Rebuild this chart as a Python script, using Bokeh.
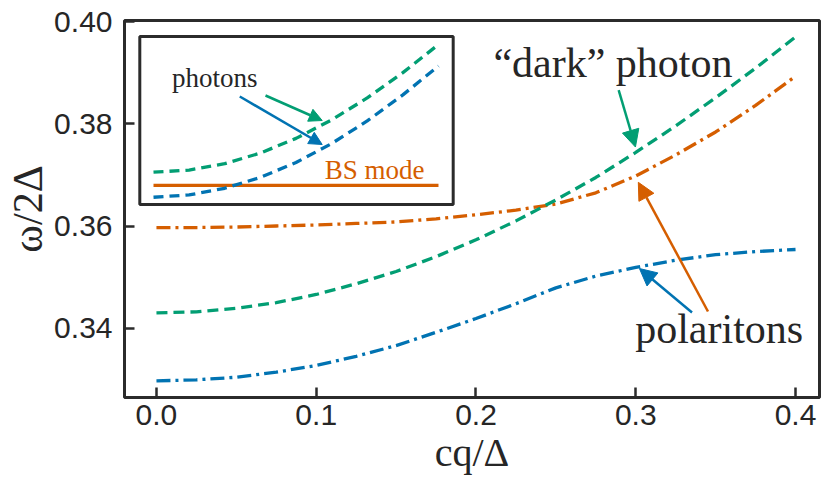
from bokeh.plotting import figure
from bokeh.models import Range1d, FixedTicker, Arrow, NormalHead, ColumnDataSource
from bokeh.core.properties import value
from bokeh.embed import file_html
from bokeh.resources import INLINE

# ---------------- data ----------------
cq = [0.0, 0.025, 0.05, 0.075, 0.1, 0.125, 0.15, 0.175, 0.2,
      0.225, 0.25, 0.275, 0.3, 0.325, 0.35, 0.375, 0.4]
dark_photon = [0.3430, 0.3432, 0.3439, 0.3450, 0.3466, 0.3487, 0.3511, 0.3540, 0.3573,
               0.3610, 0.3651, 0.3695, 0.3744, 0.3796, 0.3851, 0.3909, 0.3970]
upper_polariton = [0.3597, 0.3597, 0.3598, 0.3600, 0.3602, 0.3605, 0.3608, 0.3614, 0.3622,
                   0.3631, 0.3643, 0.3665, 0.3698, 0.3739, 0.3784, 0.3836, 0.3893]
lower_polariton = [0.3297, 0.3299, 0.3304, 0.3314, 0.3327, 0.3345, 0.3366, 0.3392, 0.3419,
                   0.3448, 0.3479, 0.3502, 0.3519, 0.3533, 0.3544, 0.3550, 0.3554]

# inset (own, unlabelled units)
inset_q = [0.0, 0.05, 0.1, 0.15, 0.2, 0.25, 0.3, 0.35, 0.4]
inset_photon_1 = [0.3430, 0.3439, 0.3466, 0.3511, 0.3573, 0.3651, 0.3744, 0.3851, 0.3970]
inset_photon_2 = [0.3324, 0.3334, 0.3362, 0.3408, 0.3471, 0.3551, 0.3647, 0.3757, 0.3879]
inset_bs_mode = [0.3374, 0.3374, 0.3374, 0.3374, 0.3374, 0.3374, 0.3374, 0.3374, 0.3374]

x_ticks = [0.0, 0.1, 0.2, 0.3, 0.4]
x_tick_labels = ["0.0", "0.1", "0.2", "0.3", "0.4"]
y_ticks = [0.34, 0.36, 0.38, 0.40]
y_tick_labels = ["0.34", "0.36", "0.38", "0.40"]

# annotations: (x, y) in data units (text anchored at its vertical middle)
main_labels = ["\u201cdark\u201d photon", "polaritons"]
main_label_x = [0.2857, 0.3522]
main_label_y = [0.39184, 0.33990]
arrow_tail_x = [0.2893, 0.3452, 0.3352]
arrow_tail_y = [0.38659, 0.34327, 0.34307]
arrow_tip_x = [0.2998, 0.3016, 0.3023]
arrow_tip_y = [0.37546, 0.36855, 0.35168]

inset_labels = ["photons", "BS mode"]
inset_label_x = [0.0859, 0.3105]
inset_label_y = [0.38279, 0.34376]
inset_arrow_tail_x = [0.1572, 0.1211]
inset_arrow_tail_y = [0.37543, 0.37501]
inset_arrow_tip_x = [0.2368, 0.2368]
inset_arrow_tip_y = [0.36486, 0.35471]
inset_box = dict(left=[-0.01923], right=[0.42063], bottom=[0.32934], top=[0.40038])

# ---------------- style ----------------
GREEN = "#029E73"
ORANGE = "#D55E00"
BLUE = "#0173B2"
DARK = "#262626"
FRAME = "#2b2b2b"

p = figure(width=830, height=489, output_backend="svg", toolbar_location=None,
           x_range=Range1d(-0.0200, 0.4150), y_range=Range1d(0.32644, 0.40022),
           min_border_left=124, min_border_right=11, min_border_top=20,
           min_border_bottom=92)
p.extra_x_ranges = {"ix": Range1d(-0.04070, 0.93476)}
p.extra_y_ranges = {"iy": Range1d(0.24773, 0.40715)}

p.background_fill_color = "white"
p.border_fill_color = "white"
p.outline_line_color = FRAME
p.outline_line_width = 3
p.xgrid.grid_line_color = None
p.ygrid.grid_line_color = None

for ax in (p.xaxis[0], p.yaxis[0]):
    ax.axis_line_color = None
    ax.major_tick_in = 10
    ax.major_tick_out = 0
    ax.major_tick_line_width = 2.5
    ax.major_tick_line_color = FRAME
    ax.minor_tick_line_color = None
    ax.major_label_text_font = "Liberation Sans"
    ax.major_label_text_font_size = "30px"
    ax.major_label_text_color = DARK
    ax.axis_label_text_font = "Liberation Serif"
    ax.axis_label_text_font_size = "40px"
    ax.axis_label_text_font_style = "normal"
    ax.axis_label_text_color = DARK

p.yaxis.axis_label_text_font_size = "42px"
p.xaxis.ticker = FixedTicker(ticks=x_ticks)
p.xaxis.major_label_overrides = dict(zip(x_ticks, x_tick_labels))
p.yaxis.ticker = FixedTicker(ticks=y_ticks)
p.yaxis.major_label_overrides = dict(zip(y_ticks, y_tick_labels))
p.xaxis.axis_label = "cq/\u0394"
p.yaxis.axis_label = "\u03c9/2\u0394"
p.xaxis.major_label_standoff = 7
p.yaxis.major_label_standoff = 12
p.xaxis.axis_label_standoff = 2
p.yaxis.axis_label_standoff = 0

# main curves
p.line(cq, upper_polariton, line_color=ORANGE, line_width=3.3, line_dash="14 5 3 5")
p.line(cq, dark_photon, line_color=GREEN, line_width=3.3, line_dash="11 6")
p.line(cq, lower_polariton, line_color=BLUE, line_width=3.3, line_dash="14 5 3 5")

# main labels
p.text(x=main_label_x, y=main_label_y, text=main_labels,
       text_font=value("Liberation Serif"), text_font_size="42px",
       text_color=DARK, text_align="center", text_baseline="middle")

main_arrow_colors = [GREEN, ORANGE, BLUE]
for i in range(3):
    c = main_arrow_colors[i]
    p.add_layout(Arrow(end=NormalHead(size=17, fill_color=c, line_color=c),
                       x_start=arrow_tail_x[i], y_start=arrow_tail_y[i],
                       x_end=arrow_tip_x[i], y_end=arrow_tip_y[i],
                       line_color=c, line_width=2.5))

# inset
p.quad(source=ColumnDataSource(inset_box), left="left", right="right",
       bottom="bottom", top="top", fill_color="white", line_color=FRAME,
       line_width=3, x_range_name="ix", y_range_name="iy")
p.line(inset_q, inset_bs_mode, line_color=ORANGE, line_width=3.3,
       x_range_name="ix", y_range_name="iy")
p.line(inset_q, inset_photon_1, line_color=GREEN, line_width=3.3, line_dash="10 6",
       x_range_name="ix", y_range_name="iy")
p.line(inset_q, inset_photon_2, line_color=BLUE, line_width=3.3, line_dash="10 6",
       x_range_name="ix", y_range_name="iy")
p.text(x=inset_label_x, y=inset_label_y, text=inset_labels,
       text_font=value("Liberation Serif"), text_font_size="27px",
       text_color=[DARK, ORANGE], text_align="center", text_baseline="middle",
       x_range_name="ix", y_range_name="iy")
inset_arrow_colors = [GREEN, BLUE]
for i in range(2):
    c = inset_arrow_colors[i]
    p.add_layout(Arrow(end=NormalHead(size=13, fill_color=c, line_color=c),
                       x_start=inset_arrow_tail_x[i], y_start=inset_arrow_tail_y[i],
                       x_end=inset_arrow_tip_x[i], y_end=inset_arrow_tip_y[i],
                       line_color=c, line_width=2.5,
                       x_range_name="ix", y_range_name="iy"))

open("out.html", "w").write(file_html(p, INLINE))
